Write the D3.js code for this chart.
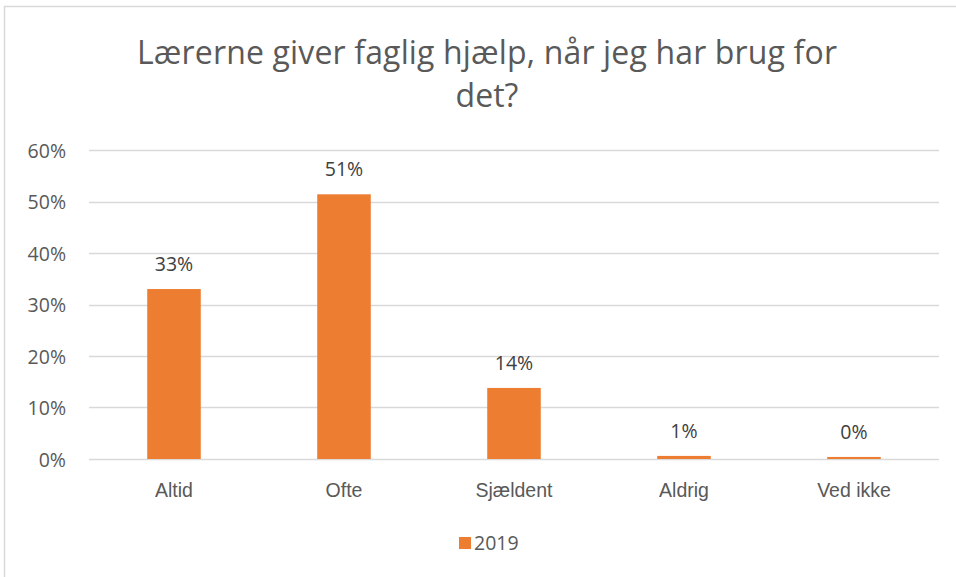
<!DOCTYPE html>
<html><head><meta charset="utf-8">
<script src="https://cdn.jsdelivr.net/npm/d3@7"></script>
<style>body{margin:0;background:#fff;}svg{display:block;font-family:"Open Sans","Noto Sans",sans-serif;}</style>
</head><body>
<svg id="c" width="956" height="577"></svg>
<script>
const categories = ["Altid","Ofte","Sjældent","Aldrig","Ved ikke"];
const values2019 = [0.33, 0.514, 0.138, 0.006, 0.004];
const valueLabels = ["33%","51%","14%","1%","0%"];
const yTicks = [0,0.1,0.2,0.3,0.4,0.5,0.6];
const seriesName = "2019";
const titleLines = ["Lærerne giver faglig hjælp, når jeg har brug for","det?"];

const svg = d3.select("#c");
const W=956,H=577;
svg.append("rect").attr("x",4.5).attr("y",6.5).attr("width",W+10).attr("height",H+10)
  .attr("fill","#fff").attr("stroke","#d9d9d9").attr("stroke-width",1.5);

const x = d3.scaleBand().domain(categories).range([89,939]).paddingInner(0.685).paddingOuter(0.3425);
const y = d3.scaleLinear().domain([0,0.6]).range([459,150]);

const tf = d3.format(".0%");
const fs = 19.5;
// gridlines
svg.append("g").selectAll("line").data(yTicks).join("line")
  .attr("x1",89).attr("x2",939).attr("y1",d=>Math.round(y(d))+0.5).attr("y2",d=>Math.round(y(d))+0.5)
  .attr("stroke","#d9d9d9").attr("stroke-width",1.5);

// y axis labels
const yAxis = d3.axisLeft(y).tickValues(yTicks).tickFormat(tf).tickSize(0).tickPadding(0);
const ya = svg.append("g").attr("transform","translate(66,0)").call(yAxis);
ya.select(".domain").remove();
ya.selectAll("text").attr("font-size",fs).attr("fill","#595959").attr("font-family","Open Sans, sans-serif").attr("dy","0.36em");

// x axis labels
const xAxis = d3.axisBottom(x).tickSize(0).tickPadding(0);
const xa = svg.append("g").attr("transform","translate(0,497)").call(xAxis);
xa.select(".domain").remove();
xa.selectAll("text").attr("font-size",fs).attr("fill","#595959").attr("dy","0").attr("y",0);

// bars
svg.append("g").selectAll("rect").data(categories).join("rect")
  .attr("x",d=>x(d)).attr("width",x.bandwidth())
  .attr("y",(d,i)=>y(values2019[i])).attr("height",(d,i)=>y(0)-y(values2019[i]))
  .attr("fill","#ed7d31");

// data labels
svg.append("g").selectAll("text").data(categories).join("text")
  .attr("x",d=>x(d)+x.bandwidth()/2).attr("y",(d,i)=>y(values2019[i])-18)
  .attr("text-anchor","middle").attr("font-size",fs).attr("fill","#404040")
  .text((d,i)=>valueLabels[i]);

// title
svg.append("g").selectAll("text").data(titleLines).join("text")
  .attr("x",487).attr("y",(d,i)=>64+i*43).attr("text-anchor","middle")
  .attr("font-size",32).attr("fill","#595959")
  .each(function(d,i){ if(i===0){ d3.select(this).attr("textLength",700).attr("lengthAdjust","spacing"); } })
  .text(d=>d);

// legend
svg.append("rect").attr("x",459).attr("y",537).attr("width",12).attr("height",12).attr("fill","#ed7d31");
svg.append("text").attr("x",474).attr("y",550).attr("font-size",fs).attr("fill","#595959").text(seriesName);
</script>
</body></html>
